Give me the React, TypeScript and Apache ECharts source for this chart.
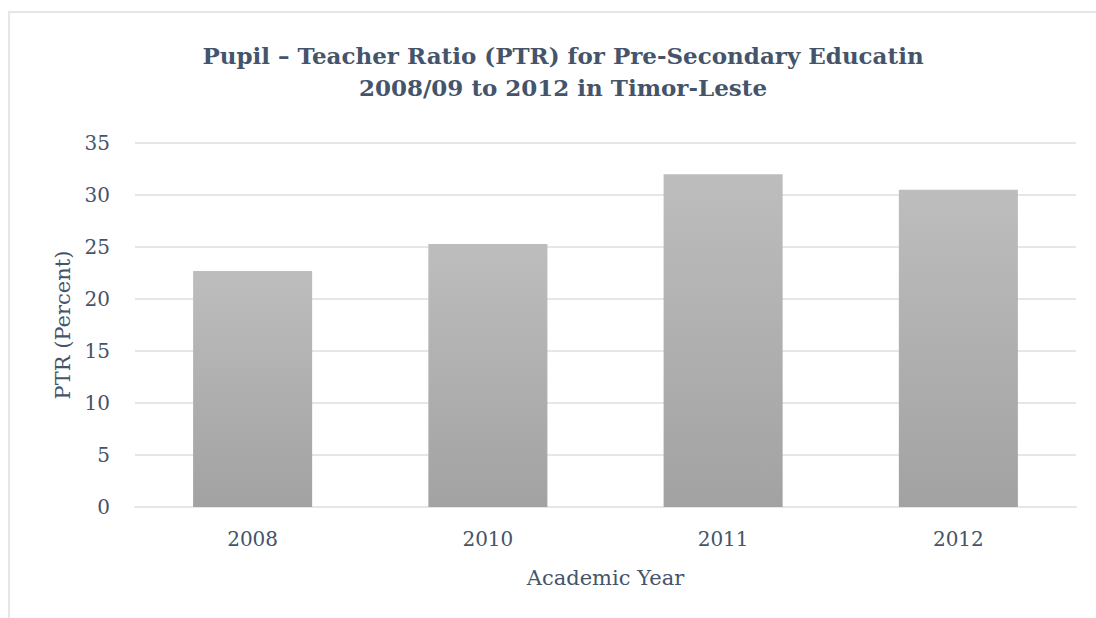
import React, { useEffect, useRef } from "react";
import * as echarts from "echarts";

const categories = ["2008", "2010", "2011", "2012"];
const ptrValues = [22.7, 25.3, 32.0, 30.5];
const yTicks = [0, 5, 10, 15, 20, 25, 30, 35];

const TEXT = "#44546a";
const FONT = "DejaVu Serif";

export default function App() {
  const ref = useRef<HTMLDivElement>(null);
  useEffect(() => {
    if (!ref.current) return;
    const chart = echarts.init(ref.current, undefined, { renderer: "svg" });
    chart.setOption({
      animation: false,
      backgroundColor: "#ffffff",
      title: {
        text: "Pupil – Teacher Ratio (PTR) for Pre-Secondary Educatin\n2008/09 to 2012 in Timor-Leste",
        left: 558,
        textAlign: "center",
        top: 34,
        textStyle: {
          fontFamily: FONT,
          fontSize: 23,
          fontWeight: "bold",
          color: TEXT,
          lineHeight: 32,
        },
      },
      graphic: [
        {
          type: "rect",
          shape: { x: 9, y: 12, width: 1200, height: 700 },
          style: { fill: "none", stroke: "#e4e6ea", lineWidth: 2 },
          silent: true,
        },
      ],
      grid: { left: 135, right: 20, top: 143, bottom: 111 },
      xAxis: {
        type: "category",
        data: categories,
        name: "Academic Year",
        nameLocation: "middle",
        nameGap: 60,
        nameTextStyle: { fontFamily: FONT, fontSize: 21, color: TEXT },
        axisLine: { show: true, lineStyle: { color: "#e4e6ea", width: 2 } },
        axisTick: { show: false },
        axisLabel: { fontFamily: FONT, fontSize: 20, color: TEXT, margin: 22 },
      },
      yAxis: {
        type: "value",
        min: 0,
        max: 35,
        interval: 5,
        name: "PTR (Percent)",
        nameLocation: "middle",
        nameGap: 62,
        nameTextStyle: { fontFamily: FONT, fontSize: 21, color: TEXT },
        axisLine: { show: false },
        axisTick: { show: false },
        axisLabel: {
          fontFamily: FONT,
          fontSize: 20,
          color: TEXT,
          margin: 25,
          formatter: (v: number) => (yTicks.includes(v) ? String(v) : ""),
        },
        splitLine: { lineStyle: { color: "#e4e6ea", width: 2 } },
      },
      series: [
        {
          type: "bar",
          data: ptrValues,
          barWidth: "50.6%",
          itemStyle: {
            color: new echarts.graphic.LinearGradient(0, 0, 0, 1, [
              { offset: 0, color: "#bdbdbd" },
              { offset: 1, color: "#a2a2a2" },
            ]),
          },
        },
      ],
    });
    return () => chart.dispose();
  }, []);
  return (
    <div
      ref={ref}
      style={{ position: "fixed", left: 0, top: 0, width: 1096, height: 618 }}
    />
  );
}
